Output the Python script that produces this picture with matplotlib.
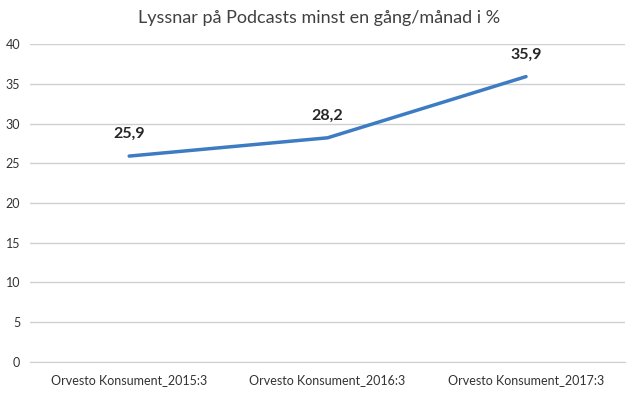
import matplotlib
matplotlib.use("Agg")
import matplotlib.pyplot as plt

categories = ["Orvesto Konsument_2015:3", "Orvesto Konsument_2016:3", "Orvesto Konsument_2017:3"]
values = [25.9, 28.2, 35.9]
labels = ["25,9", "28,2", "35,9"]

plt.rcParams["font.family"] = ["Lato", "DejaVu Sans"]

fig = plt.figure(figsize=(6.38, 3.93), dpi=100)
ax = fig.add_axes([0.047, 0.079, 0.933, 0.809])

x = range(len(categories))
ax.plot(x, values, color="#3d7cc2", linewidth=2.5, solid_capstyle="round")

for xi, v, lab in zip(x, values, labels):
    ax.annotate(lab, (xi, v), xytext=(0, 11), textcoords="offset points",
                ha="center", va="bottom", fontsize=11.5, fontweight="bold", color="#262626")

ax.set_xlim(-0.5, 2.5)
ax.set_ylim(0, 40)
ax.set_yticks(range(0, 41, 5))
ax.set_xticks(list(x))
ax.set_xticklabels(categories)
ax.grid(axis="y", color="#d0d0d0", linewidth=1)
ax.set_axisbelow(True)
for s in ["top", "right", "left"]:
    ax.spines[s].set_visible(False)
ax.spines["bottom"].set_color("#d0d0d0")
ax.tick_params(length=0, labelsize=9, colors="#333333")
ax.tick_params(axis="y", pad=7)
ax.tick_params(axis="x", pad=9)

fig.text(0.5, 0.955, "Lyssnar på Podcasts minst en gång/månad i %", ha="center", va="center",
         fontsize=13, color="#404040")

fig.savefig("out.png", dpi=100)
